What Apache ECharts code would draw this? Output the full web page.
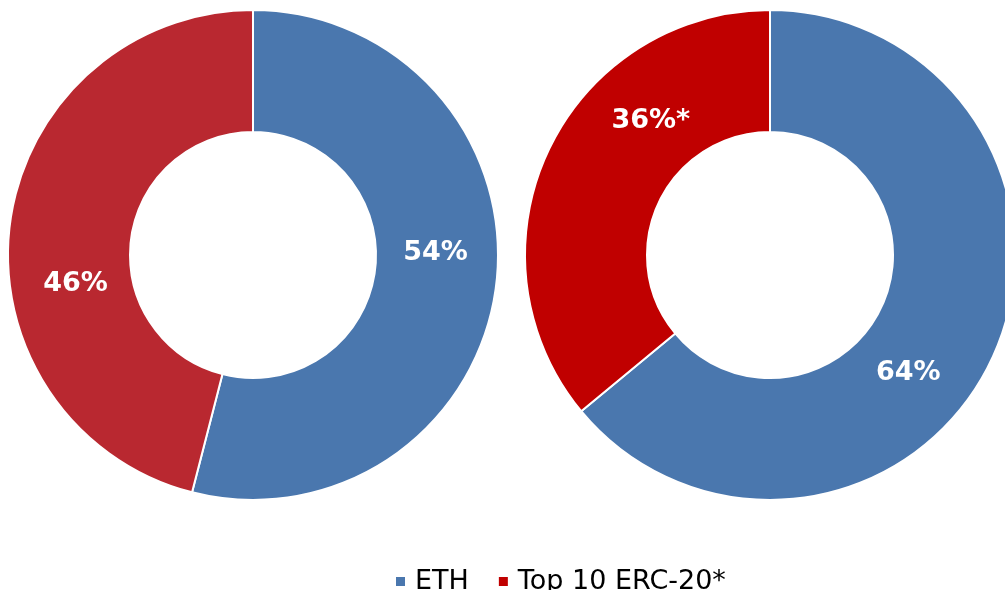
<!DOCTYPE html>
<html>
<head>
<meta charset="utf-8">
<script src="https://cdn.jsdelivr.net/npm/echarts@6/dist/echarts.min.js"></script>
<style>
    html, body { margin: 0; padding: 0; background: #fff; }
    #chart { width: 1005px; height: 590px; }
</style>
</head>
<body>
<div id="chart"></div>
<script>
// categories + values
var categories = ["ETH", "Top 10 ERC-20*"];
var leftValues = [54, 46];
var rightValues = [64, 36];
var rightSuffix = ["", "*"];

var blue = "#4a77ae";
var leftRed = "#b92830";
var rightRed = "#c00000";

// label nudges so they sit where the original put them
var nudges = {
    0: [[-3, -25], [8, 52]],
    1: [[-31, 38], [50, -54]]
};

function build(values, colors, suffix) {
    return categories.map(function(name, i) {
        return {
            name: name,
            value: values[i],
            itemStyle: { color: colors[i] },
            label: {
                formatter: "{c}%" + (suffix ? suffix[i] : "")
            }
        };
    });
}

function donut(center, data) {
    return {
        type: "pie",
        center: center,
        radius: [123, 245],
        startAngle: 90,
        clockwise: true,
        avoidLabelOverlap: false,
        itemStyle: {
            borderColor: "#fff",
            borderWidth: 2
        },
        label: {
            show: true,
            position: "inside",
            color: "#fff",
            fontFamily: "DejaVu Sans",
            fontWeight: "bold",
            fontSize: 27
        },
        labelLine: { show: false },
        emphasis: { scale: false },
        labelLayout: function(p) {
            var n = nudges[p.seriesIndex][p.dataIndex];
            return { dx: n[0], dy: n[1] };
        },
        data: data
    };
}

var chart = echarts.init(document.getElementById("chart"));
chart.setOption({
    animation: false,
    legend: {
        top: 563,
        left: 389,
        icon: "rect",
        itemWidth: 11,
        itemHeight: 11,
        itemGap: 28,
        textStyle: {
            fontFamily: "DejaVu Sans",
            fontSize: 27,
            color: "#000",
            padding: [0, 0, 0, 4]
        },
        data: [
            { name: categories[0], itemStyle: { color: blue } },
            { name: categories[1], itemStyle: { color: rightRed } }
        ]
    },
    series: [
        donut([253, 255], build(leftValues, [blue, leftRed])),
        donut([770, 255], build(rightValues, [blue, rightRed], rightSuffix))
    ]
});
</script>
</body>
</html>
